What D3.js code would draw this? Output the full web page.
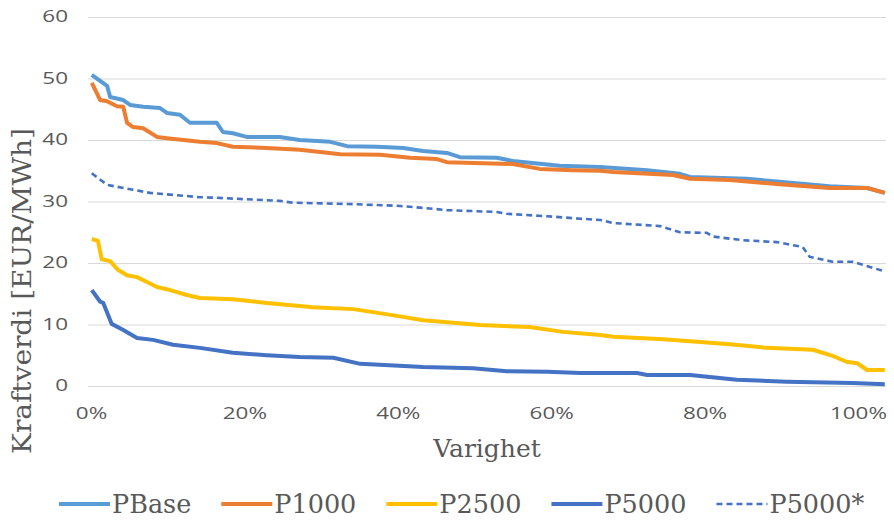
<!DOCTYPE html>
<html>
<head>
<meta charset="utf-8">
<script src="https://cdn.jsdelivr.net/npm/d3@7"></script>
<style>
  html, body { margin: 0; padding: 0; background: #fff; }
  svg { display: block; }
</style>
</head>
<body>
<svg id="chart" width="894" height="523"></svg>
<script>
// Duration curves: share of time (%) vs power value (EUR/MWh)
const seriesNames = ["PBase", "P1000", "P2500", "P5000", "P5000*"];

const pbaseX = [0.1, 2.1, 2.5, 4.2, 5.1, 6.8, 9.0, 9.9, 11.6, 12.9, 16.4, 17.2, 18.5, 20.3, 24.6, 27.2, 31.2, 33.4, 37.3, 40.7, 43.3, 46.4, 48.1, 52.9, 55.0, 61.1, 66.4, 72.5, 76.8, 78.1, 85.5, 89.8, 96.3, 101.2, 103.5];
const pbaseY = [50.6, 48.8, 47.0, 46.5, 45.7, 45.4, 45.2, 44.4, 44.1, 42.8, 42.8, 41.3, 41.1, 40.5, 40.5, 40.0, 39.7, 39.0, 38.9, 38.7, 38.2, 37.9, 37.2, 37.1, 36.6, 35.8, 35.6, 35.1, 34.5, 34.0, 33.7, 33.2, 32.5, 32.2, 31.4];

const p1000X = [0.1, 1.2, 2.1, 3.4, 4.2, 4.7, 5.5, 6.8, 8.6, 9.9, 14.2, 16.4, 18.5, 22.9, 27.2, 30.2, 32.5, 37.7, 41.6, 45.1, 46.4, 55.0, 58.5, 62.8, 66.4, 68.1, 75.9, 78.1, 83.3, 89.8, 96.3, 101.2, 103.5];
const p1000Y = [49.3, 46.5, 46.3, 45.5, 45.4, 42.8, 42.1, 41.9, 40.5, 40.3, 39.7, 39.5, 38.9, 38.7, 38.4, 38.0, 37.7, 37.6, 37.1, 36.9, 36.4, 36.1, 35.3, 35.1, 35.0, 34.8, 34.3, 33.7, 33.5, 32.8, 32.2, 32.2, 31.4];

const p2500X = [0.1, 0.9, 1.4, 2.5, 3.5, 4.7, 6.0, 7.3, 8.6, 10.3, 12.5, 14.2, 18.5, 22.9, 27.2, 28.9, 34.2, 39.9, 43.3, 50.7, 57.2, 61.5, 66.4, 68.1, 74.6, 79.0, 83.3, 88.1, 94.1, 96.7, 98.6, 99.9, 101.2, 103.5];
const p2500Y = [23.9, 23.6, 20.6, 20.3, 18.9, 18.0, 17.7, 16.9, 16.1, 15.6, 14.8, 14.3, 14.1, 13.5, 13.0, 12.8, 12.5, 11.4, 10.7, 9.9, 9.6, 8.8, 8.3, 8.0, 7.6, 7.2, 6.8, 6.2, 5.9, 4.9, 3.9, 3.7, 2.6, 2.6];

const p5000X = [0.1, 1.2, 1.6, 2.7, 4.2, 6.0, 8.1, 10.7, 14.2, 18.5, 22.9, 27.2, 31.6, 35.1, 43.3, 49.8, 54.2, 59.5, 63.8, 71.2, 72.5, 78.1, 84.2, 90.7, 99.3, 103.5];
const p5000Y = [15.6, 13.7, 13.5, 10.1, 9.1, 7.8, 7.5, 6.7, 6.2, 5.4, 5.0, 4.7, 4.6, 3.6, 3.1, 2.9, 2.4, 2.3, 2.1, 2.1, 1.8, 1.8, 1.0, 0.7, 0.5, 0.3];

const p5000sX = [0.1, 2.1, 5.5, 7.7, 14.2, 16.4, 24.6, 26.3, 33.4, 39.9, 42.9, 46.4, 52.9, 54.2, 59.5, 63.8, 66.4, 68.1, 74.2, 76.8, 80.3, 81.1, 85.0, 89.4, 92.8, 93.7, 96.7, 99.3, 103.3];
const p5000sY = [34.6, 32.7, 31.9, 31.4, 30.7, 30.6, 30.1, 29.8, 29.6, 29.3, 29.0, 28.6, 28.3, 28.0, 27.6, 27.2, 27.0, 26.5, 26.0, 25.0, 24.9, 24.3, 23.7, 23.4, 22.6, 21.0, 20.2, 20.2, 18.7];

const xTicks = [0, 20, 40, 60, 80, 100];
const yTicks = [0, 10, 20, 30, 40, 50, 60];

const xs = [pbaseX, p1000X, p2500X, p5000X, p5000sX];
const ys = [pbaseY, p1000Y, p2500Y, p5000Y, p5000sY];
const colors = ["#5B9BD5", "#ED7D31", "#FFC000", "#4472C4", "#4472C4"];
const widths = [4, 4, 4, 4, 2.6];
const dashes = [null, null, null, null, "6,4"];

const svg = d3.select("#chart");
const plotLeft = 88, plotRight = 886;
const x = d3.scaleLinear().domain([0, 103.5]).range([91, 884.8]);
const y = d3.scaleLinear().domain([0, 60]).range([386, 17]);

const tickColor = "#595959";
const sansFont = "'Open Sans', sans-serif";
const serifFont = "'DejaVu Serif', serif";
const stretch = 1.45;

// Horizontal gridlines and value labels
const gy = svg.append("g")
  .attr("transform", `translate(${plotLeft},0)`)
  .call(d3.axisLeft(y).tickValues(yTicks).tickSize(-(plotRight - plotLeft)).tickPadding(20));
gy.select(".domain").remove();
gy.selectAll(".tick line").attr("stroke", "#d9d9d9").attr("stroke-width", 1);
gy.selectAll(".tick text")
  .attr("x", -20 / stretch)
  .attr("transform", `scale(${stretch},1)`)
  .attr("fill", tickColor)
  .style("font-family", sansFont)
  .style("font-size", "15.5px");

// Category labels along the bottom
const gx = svg.append("g")
  .attr("transform", `translate(0,${y(0)})`)
  .call(d3.axisBottom(x).tickValues(xTicks).tickSize(0).tickPadding(22).tickFormat(d => d + "%"));
gx.select(".domain").remove();
gx.selectAll(".tick text")
  .attr("transform", `scale(${stretch},1)`)
  .attr("fill", tickColor)
  .style("font-family", sansFont)
  .style("font-size", "15.5px");

// Curves
const line = d3.line().x(d => x(d[0])).y(d => y(d[1]));
const drawOrder = [4, 3, 2, 0, 1];
drawOrder.forEach(i => {
  const pts = xs[i].map((v, k) => [v, ys[i][k]]);
  svg.append("path")
    .datum(pts)
    .attr("d", line)
    .attr("fill", "none")
    .attr("stroke", colors[i])
    .attr("stroke-width", widths[i])
    .attr("stroke-linejoin", "round")
    .attr("stroke-dasharray", dashes[i]);
});

// Axis titles
svg.append("text")
  .attr("x", 487).attr("y", 448)
  .attr("text-anchor", "middle")
  .attr("dominant-baseline", "central")
  .attr("fill", tickColor)
  .style("font-family", serifFont)
  .style("font-size", "25px")
  .text("Varighet");

svg.append("text")
  .attr("transform", "translate(22,291) rotate(-90)")
  .attr("text-anchor", "middle")
  .attr("dominant-baseline", "central")
  .attr("textLength", 326)
  .attr("lengthAdjust", "spacingAndGlyphs")
  .attr("fill", tickColor)
  .style("font-family", serifFont)
  .style("font-size", "26px")
  .text("Kraftverdi [EUR/MWh]");

// Legend
let lx = 59;
const ly = 504;
seriesNames.forEach((name, i) => {
  svg.append("line")
    .attr("x1", lx).attr("x2", lx + 51)
    .attr("y1", ly).attr("y2", ly)
    .attr("stroke", colors[i])
    .attr("stroke-width", widths[i])
    .attr("stroke-dasharray", dashes[i]);
  const t = svg.append("text")
    .attr("x", lx + 53).attr("y", ly)
    .attr("dominant-baseline", "central")
    .attr("fill", tickColor)
    .style("font-family", serifFont)
    .style("font-size", "25.5px")
    .text(name);
  lx += 53 + t.node().getComputedTextLength() + 30;
});
</script>
</body>
</html>
